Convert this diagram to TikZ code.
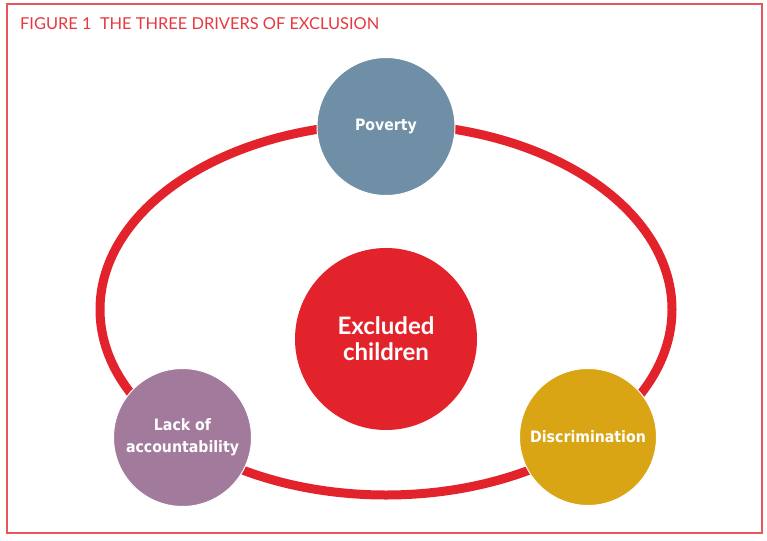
\documentclass[tikz,border=0pt]{standalone}
\usepackage{fontspec}
\setmainfont{Lato}
\newfontfamily\verd{DejaVu Sans Condensed}
\definecolor{ringred}{HTML}{E3232C}
\definecolor{framered}{HTML}{E8555C}
\definecolor{titlered}{HTML}{E63840}
\definecolor{povblue}{HTML}{6E8FA5}
\definecolor{lackpurple}{HTML}{A27B9C}
\definecolor{discgold}{HTML}{D9A515}
\definecolor{exclred}{HTML}{E2232B}
\begin{document}
\begin{tikzpicture}[x=1pt,y=-1pt,
  driver/.style={circle, inner sep=0pt, draw=white, line width=1pt, text=white, align=center,
    font=\verd\bfseries\fontsize{15.7}{22}\selectfont},
  ring/.style={draw=ringred, line width=9pt}]
\useasboundingbox (0,0) rectangle (767,540);
\draw[framered, line width=1.5pt] (7,4) rectangle (762,533);
\node[anchor=base west, text=titlered, inner sep=0pt, font=\fontsize{16.4}{18}\selectfont] (title) at (20,29.5) {FIGURE 1\ \ THE THREE DRIVERS OF EXCLUSION};
\coordinate (c) at (386,309.5);
\draw[ring] (c) ellipse [x radius=286, y radius=185.5];
\node[driver, fill=povblue, minimum size=138pt] (pov) at (386,126.5) {Poverty};
\node[driver, fill=lackpurple, minimum size=138pt] (lack) at (182.5,437.5) {Lack of\\accountability};
\node[driver, fill=discgold, minimum size=137pt] (disc) at (588,437) {Discrimination};
\node[circle, inner sep=0pt, fill=exclred, minimum size=182pt, text=white, align=center,
  font=\bfseries\fontsize{24}{26}\selectfont] (excl) at (386,339) {Excluded\\children};
\end{tikzpicture}
\end{document}
